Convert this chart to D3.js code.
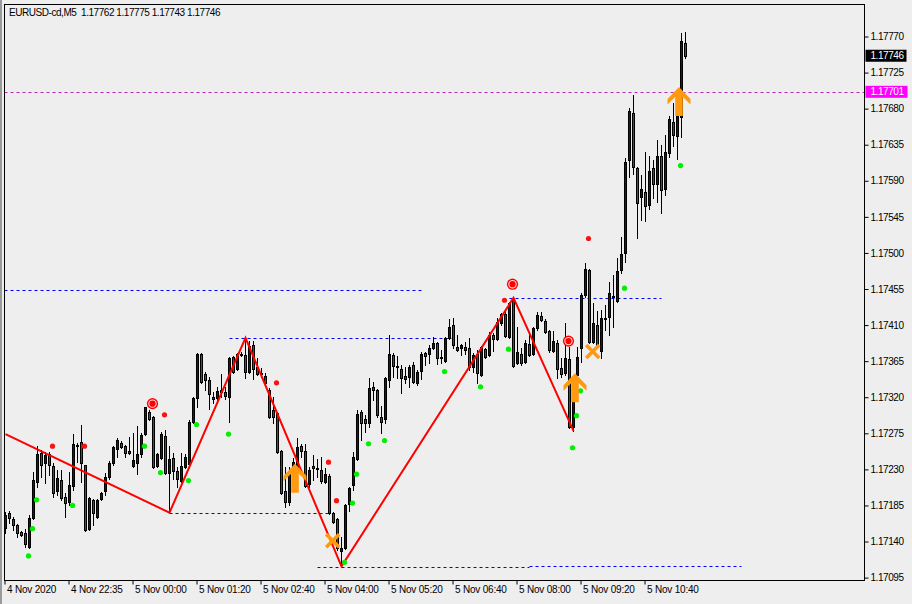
<!DOCTYPE html>
<html><head><meta charset="utf-8">
<script src="https://cdn.jsdelivr.net/npm/d3@7"></script>
<style>
body{margin:0;background:#eeeeee;}
svg{display:block;font-family:"Liberation Sans",Arial,sans-serif;}
.lbl{font-size:10px;letter-spacing:-0.45px;fill:#000;}
</style>
</head><body><svg id="c" width="912" height="604"></svg>
<script>
const chartTitle = "EURUSD-cd,M5";
const titleValues = ["1.17762", "1.17775", "1.17743", "1.17746"];

const open = [1.17157,1.17176,1.17168,1.17161,1.17152,1.17151,1.17133,1.17169,1.17214,1.17250,
1.17238,1.17249,1.17234,1.17203,1.17217,1.17195,1.17189,1.17209,1.17259,1.17264,
1.17235,1.17156,1.17192,1.17171,1.17193,1.17203,1.17220,1.17238,1.17255,1.17263,
1.17259,1.17253,1.17234,1.17238,1.17249,1.17274,1.17302,1.17295,1.17234,1.17244,
1.17272,1.17225,1.17244,1.17228,1.17215,1.17233,1.17237,1.17289,1.17319,1.17374,
1.17349,1.17341,1.17320,1.17319,1.17329,1.17326,1.17320,1.17370,1.17355,1.17374,
1.17373,1.17351,1.17385,1.17358,1.17350,1.17346,1.17329,1.17304,1.17300,1.17253,
1.17203,1.17189,1.17223,1.17233,1.17259,1.17253,1.17212,1.17234,1.17232,1.17229,
1.17214,1.17222,1.17176,1.17168,1.17128,1.17132,1.17187,1.17210,1.17243,1.17302,
1.17293,1.17288,1.17333,1.17329,1.17295,1.17293,1.17341,1.17373,1.17359,1.17355,
1.17346,1.17345,1.17360,1.17338,1.17353,1.17375,1.17374,1.17381,1.17388,1.17369,
1.17365,1.17394,1.17410,1.17383,1.17381,1.17383,1.17381,1.17358,1.17374,1.17348,
1.17380,1.17373,1.17398,1.17393,1.17413,1.17424,1.17395,1.17441,1.17363,1.17374,
1.17364,1.17386,1.17374,1.17406,1.17421,1.17415,1.17403,1.17378,1.17388,1.17356,
1.17350,1.17368,1.17283,1.17348,1.17381,1.17447,1.17479,1.17389,1.17410,1.17378,
1.17418,1.17420,1.17445,1.17440,1.17479,1.17500,1.17616,1.17675,1.17606,1.17570,
1.17576,1.17560,1.17606,1.17586,1.17621,1.17580,1.17625,1.17663,1.17646,1.17670,
1.17762];
const high = [1.17177,1.17178,1.17171,1.17162,1.17153,1.17156,1.17173,1.17227,1.17259,1.17254,
1.17252,1.17252,1.17238,1.17229,1.17229,1.17200,1.17227,1.17274,1.17263,1.17285,
1.17236,1.17196,1.17193,1.17193,1.17202,1.17225,1.17240,1.17259,1.17269,1.17265,
1.17260,1.17270,1.17275,1.17284,1.17275,1.17308,1.17304,1.17296,1.17250,1.17277,
1.17279,1.17259,1.17250,1.17233,1.17250,1.17249,1.17292,1.17320,1.17375,1.17375,
1.17351,1.17345,1.17326,1.17333,1.17349,1.17333,1.17370,1.17371,1.17375,1.17376,
1.17394,1.17390,1.17390,1.17369,1.17356,1.17350,1.17331,1.17320,1.17302,1.17254,
1.17233,1.17233,1.17244,1.17269,1.17262,1.17262,1.17233,1.17248,1.17243,1.17245,
1.17232,1.17224,1.17177,1.17169,1.17146,1.17187,1.17208,1.17252,1.17304,1.17304,
1.17298,1.17344,1.17339,1.17330,1.17309,1.17345,1.17398,1.17375,1.17371,1.17360,
1.17358,1.17360,1.17364,1.17354,1.17376,1.17376,1.17385,1.17395,1.17389,1.17379,
1.17395,1.17418,1.17419,1.17398,1.17386,1.17389,1.17394,1.17375,1.17379,1.17384,
1.17381,1.17401,1.17400,1.17419,1.17425,1.17429,1.17439,1.17444,1.17408,1.17381,
1.17391,1.17400,1.17408,1.17426,1.17426,1.17418,1.17404,1.17403,1.17391,1.17369,
1.17413,1.17383,1.17341,1.17383,1.17450,1.17487,1.17480,1.17438,1.17428,1.17429,
1.17435,1.17464,1.17472,1.17494,1.17520,1.17618,1.17681,1.17697,1.17607,1.17597,
1.17626,1.17621,1.17616,1.17641,1.17635,1.17647,1.17671,1.17687,1.17693,1.17774,
1.17775];
const low = [1.17151,1.17163,1.17154,1.17146,1.17147,1.17133,1.17132,1.17168,1.17208,1.17220,
1.17213,1.17223,1.17195,1.17198,1.17192,1.17171,1.17186,1.17204,1.17239,1.17214,
1.17153,1.17154,1.17161,1.17169,1.17192,1.17198,1.17218,1.17235,1.17245,1.17257,
1.17245,1.17249,1.17233,1.17224,1.17245,1.17273,1.17292,1.17232,1.17233,1.17243,
1.17224,1.17176,1.17218,1.17208,1.17214,1.17232,1.17235,1.17288,1.17308,1.17338,
1.17329,1.17305,1.17313,1.17314,1.17320,1.17318,1.17289,1.17350,1.17354,1.17371,
1.17344,1.17350,1.17343,1.17348,1.17345,1.17336,1.17294,1.17288,1.17250,1.17199,
1.17183,1.17186,1.17219,1.17232,1.17245,1.17208,1.17208,1.17217,1.17220,1.17213,
1.17213,1.17174,1.17163,1.17129,1.17109,1.17131,1.17178,1.17204,1.17242,1.17267,
1.17277,1.17283,1.17317,1.17295,1.17275,1.17288,1.17333,1.17345,1.17344,1.17325,
1.17338,1.17333,1.17338,1.17335,1.17343,1.17360,1.17363,1.17380,1.17361,1.17363,
1.17364,1.17393,1.17381,1.17378,1.17373,1.17374,1.17354,1.17351,1.17338,1.17346,
1.17369,1.17371,1.17378,1.17391,1.17410,1.17395,1.17394,1.17358,1.17361,1.17360,
1.17363,1.17371,1.17373,1.17404,1.17415,1.17400,1.17376,1.17376,1.17344,1.17345,
1.17348,1.17282,1.17278,1.17345,1.17364,1.17445,1.17388,1.17388,1.17381,1.17369,
1.17404,1.17398,1.17408,1.17439,1.17475,1.17489,1.17595,1.17598,1.17519,1.17541,
1.17540,1.17555,1.17568,1.17564,1.17550,1.17572,1.17620,1.17633,1.17617,1.17645,
1.17743];
const close = [1.17173,1.17169,1.17161,1.17151,1.17148,1.17137,1.17169,1.17217,1.17249,1.17235,
1.17248,1.17235,1.17200,1.17219,1.17194,1.17188,1.17210,1.17262,1.17260,1.17238,
1.17154,1.17194,1.17176,1.17192,1.17200,1.17220,1.17238,1.17258,1.17267,1.17258,
1.17250,1.17250,1.17242,1.17249,1.17273,1.17308,1.17293,1.17233,1.17249,1.17274,
1.17225,1.17243,1.17228,1.17218,1.17234,1.17245,1.17289,1.17319,1.17374,1.17339,
1.17341,1.17324,1.17318,1.17328,1.17326,1.17321,1.17369,1.17351,1.17374,1.17373,
1.17351,1.17384,1.17355,1.17349,1.17349,1.17338,1.17295,1.17295,1.17252,1.17200,
1.17189,1.17224,1.17239,1.17258,1.17253,1.17209,1.17229,1.17232,1.17230,1.17215,
1.17224,1.17176,1.17164,1.17132,1.17132,1.17186,1.17207,1.17245,1.17299,1.17288,
1.17288,1.17331,1.17329,1.17298,1.17289,1.17344,1.17374,1.17359,1.17358,1.17344,
1.17343,1.17358,1.17339,1.17351,1.17374,1.17371,1.17381,1.17388,1.17369,1.17370,
1.17394,1.17408,1.17385,1.17379,1.17385,1.17379,1.17358,1.17373,1.17350,1.17383,
1.17370,1.17398,1.17393,1.17414,1.17424,1.17396,1.17438,1.17359,1.17376,1.17363,
1.17388,1.17373,1.17406,1.17423,1.17416,1.17401,1.17379,1.17390,1.17355,1.17349,
1.17369,1.17283,1.17325,1.17370,1.17447,1.17480,1.17389,1.17413,1.17383,1.17419,
1.17419,1.17450,1.17446,1.17477,1.17499,1.17613,1.17677,1.17607,1.17562,1.17580,
1.17559,1.17602,1.17586,1.17621,1.17578,1.17626,1.17667,1.17647,1.17671,1.17764,
1.17746];

const timeLabels = ["4 Nov 2020","4 Nov 22:35","5 Nov 00:00","5 Nov 01:20","5 Nov 02:40","5 Nov 04:00",
  "5 Nov 05:20","5 Nov 06:40","5 Nov 08:00","5 Nov 09:20","5 Nov 10:40"];
const timeLabelBars = [0,16,32,48,64,80,96,112,128,144,160];
const priceTicks = [1.17770,1.17725,1.17680,1.17635,1.17590,1.17545,1.17500,1.17455,1.17410,
  1.17365,1.17320,1.17275,1.17230,1.17185,1.17140,1.17095];

const zigzagBars = [0,41,60,84,127,142];
const zigzagPrices = [1.17274,1.17176,1.17394,1.17109,1.17444,1.17278];

const greenDotBars = [6,7,8,17,35,39,46,48,56,85,87,88,91,95,110,119,126,142,143,144,155,169];
const greenDotPrices = [1.17122,1.17156,1.17192,1.17185,1.17259,1.17226,1.17216,1.17286,1.17274,1.17114,
  1.17188,1.17224,1.17262,1.17266,1.17352,1.17333,1.17380,1.17257,1.17297,1.17328,1.17456,1.17609];
const redDotBars = [12,20,40,68,81,83,125,146];
const redDotPrices = [1.17259,1.17259,1.17298,1.17338,1.17239,1.17191,1.17441,1.17518];
const targetBars = [37,127,141];
const targetPrices = [1.17312,1.17461,1.17390];
const buyArrowBars = [72,142,168];
const buyArrowPrices = [1.17237,1.17350,1.17707];
const crossBars = [82,147];
const crossPrices = [1.17141,1.17377];

const levelPrices = [1.17454,1.17394,1.17176,1.17444,1.17108,1.17109];
const levelFrom = [-1,56,41,126,78,131];
const levelTo = [104,113,81,164,131,184];

const bidPrice = 1.17746;
const alertPrice = 1.17701;

// ---------------------------------------------------------------
const svg = d3.select("#c");
const L = 4.5, R = 864.5, T = 4.5, B = 580.5;
const x = d3.scaleLinear().domain([0, 170]).range([5.5, 685.5]);
const y = d3.scaleLinear().domain([1.17095, 1.17770]).range([577.6, 36.5]);

svg.append("rect").attr("width",912).attr("height",604).attr("fill","#eeeeee");
svg.append("rect").attr("x",0).attr("y",0).attr("width",2).attr("height",604).attr("fill","#9a9a9a");

svg.append("defs").append("clipPath").attr("id","plot")
  .append("rect").attr("x",L).attr("y",T).attr("width",R-L).attr("height",B-T);
const g = svg.append("g").attr("clip-path","url(#plot)");

// horizontal levels
g.selectAll(".lvl").data(levelPrices).enter().append("line")
  .attr("x1",(d,i)=>Math.max(L, x(levelFrom[i])))
  .attr("x2",(d,i)=>x(levelTo[i]))
  .attr("y1",d=>Math.round(y(d))+0.5).attr("y2",d=>Math.round(y(d))+0.5)
  .attr("stroke","#0000ff").attr("stroke-width",1).attr("stroke-dasharray","3,3");

g.append("line").attr("x1",L).attr("x2",R)
  .attr("y1",Math.round(y(alertPrice))+0.5).attr("y2",Math.round(y(alertPrice))+0.5)
  .attr("stroke","#b828b8").attr("stroke-width",1).attr("stroke-dasharray","3,3");

// candles
const idx = d3.range(open.length);
const cg = g.append("g");
idx.forEach(i=>{
  const xc = Math.floor(x(i));
  const yh = Math.round(y(high[i])), yl = Math.round(y(low[i]));
  cg.append("rect").attr("x",xc).attr("y",yh).attr("width",1).attr("height",yl-yh+1).attr("fill","#000");
  const top = Math.round(y(Math.max(open[i],close[i])));
  const bot = Math.round(y(Math.min(open[i],close[i])));
  cg.append("rect").attr("x",xc-1).attr("y",top).attr("width",3).attr("height",Math.max(1,bot-top+1)).attr("fill","#000");
  if (bot-top-1 > 0) {
    cg.append("rect").attr("x",xc).attr("y",top+1).attr("width",1).attr("height",bot-top-1)
      .attr("fill", close[i] >= open[i] ? "#0000ff" : "#ff0000");
  }
});

// zigzag
g.append("path")
  .attr("d", d3.line().x(i=>x(zigzagBars[i])).y(i=>y(zigzagPrices[i]))(d3.range(zigzagBars.length)))
  .attr("fill","none").attr("stroke","#ff0000").attr("stroke-width",2);

// dots
g.selectAll(".gd").data(greenDotBars).enter().append("circle")
  .attr("cx",d=>x(d)-1).attr("cy",(d,i)=>y(greenDotPrices[i])).attr("r",2.6).attr("fill","#00f000");
g.selectAll(".rd").data(redDotBars).enter().append("circle")
  .attr("cx",d=>x(d)-1).attr("cy",(d,i)=>y(redDotPrices[i])).attr("r",2.6).attr("fill","#ff1010");

// target circles
targetBars.forEach((b,i)=>{
  const cx = x(b)-1, cy = y(targetPrices[i]);
  g.append("circle").attr("cx",cx).attr("cy",cy).attr("r",5.6).attr("fill","#ff0000");
  g.append("circle").attr("cx",cx).attr("cy",cy).attr("r",4.2).attr("fill","#ffd8d8");
  g.append("circle").attr("cx",cx).attr("cy",cy).attr("r",3.1).attr("fill","#ff0000");
});

// buy arrows
const arrowPath = "M0,0 L11.5,12 L11.5,17.5 L3.8,10 L3.8,29 L-3.8,29 L-3.8,10 L-11.5,17.5 L-11.5,12 Z";
buyArrowBars.forEach((b,i)=>{
  g.append("path").attr("d",arrowPath)
    .attr("transform",`translate(${x(b)+1.5},${y(buyArrowPrices[i])})`)
    .attr("fill","#ff9a10");
});

// crosses
crossBars.forEach((b,i)=>{
  const cx = x(b)-0.8, cy = y(crossPrices[i]), s = 6.5;
  g.append("path").attr("d",`M${cx-s},${cy-s}L${cx+s},${cy+s}M${cx-s},${cy+s}L${cx+s},${cy-s}`)
    .attr("stroke","#ff9a10").attr("stroke-width",3.6).attr("fill","none");
});

// frame
svg.append("rect").attr("x",L).attr("y",T).attr("width",R-L).attr("height",B-T)
  .attr("fill","none").attr("stroke","#000").attr("stroke-width",1);

// right axis
const ay = svg.append("g").attr("transform",`translate(${R},0)`)
  .call(d3.axisRight(y).tickValues(priceTicks).tickSize(4).tickPadding(2).tickFormat(d3.format(".5f")));
ay.select(".domain").remove();
ay.selectAll("text").attr("class","lbl").attr("font-family",null).attr("font-size",null);
ay.selectAll("line").attr("stroke","#000");

// bid & alert labels
[[bidPrice,"#000000",41],[alertPrice,"#ff00ff",42]].forEach(([p,c,w])=>{
  const yy = y(p);
  svg.append("rect").attr("x",R+1).attr("y",yy-6).attr("width",w).attr("height",12).attr("fill",c);
  svg.append("text").attr("class","lbl").attr("x",R+6).attr("y",yy).attr("dy","0.34em")
    .style("fill","#fff").text(d3.format(".5f")(p));
});

// bottom axis
const ax = svg.append("g").attr("transform",`translate(-1,${B})`)
  .call(d3.axisBottom(x).tickValues(timeLabelBars).tickSize(4).tickFormat((d,i)=>timeLabels[i]));
ax.select(".domain").remove();
ax.selectAll("line").attr("stroke","#000");
ax.selectAll("text").attr("class","lbl").attr("font-family",null).attr("font-size",null)
  .attr("text-anchor","start").attr("x",2).attr("y",4).attr("dy","0.85em").style("letter-spacing","-0.2px");

// title
svg.append("text").attr("class","lbl").attr("x",9).attr("y",16).style("white-space","pre")
  .text(chartTitle + "  " + titleValues.join(" "));
</script>
</body></html>
